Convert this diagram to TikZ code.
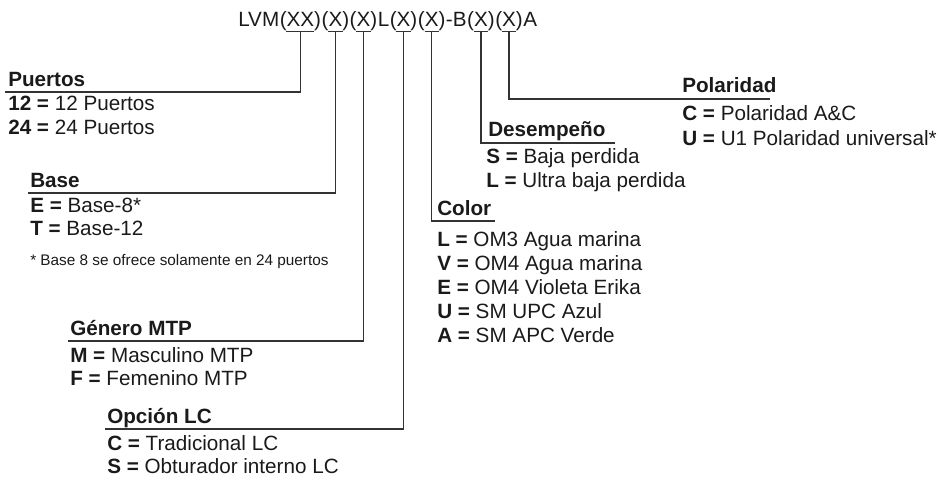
\documentclass[tikz,border=0pt]{standalone}
\usepackage{fontspec}
\setmainfont{Liberation Sans}
\usetikzlibrary{positioning}
\definecolor{ink}{HTML}{1A1A1A}
\definecolor{wire}{HTML}{333333}
\begin{document}
\begin{tikzpicture}[x=0.75pt,y=-0.75pt,
  every node/.style={inner sep=0pt,anchor=base west,text=ink},
  code/.style={font=\fontsize{15.5}{18}\selectfont},
  head/.style={font=\fontsize{15.5}{18}\selectfont\bfseries},
  item/.style={font=\fontsize{15.5}{18}\selectfont},
  note/.style={font=\fontsize{11.5}{14}\selectfont},
  wire/.style={draw=wire,line width=1.1pt}]
\useasboundingbox (0,0) rectangle (939,485);
% part number
\node[code] (t0) at (238,27) {LVM};
\node[code] (c1) at (t0.base east) {(XX)};
\node[code] (c2) at (c1.base east) {(X)};
\node[code] (c3) at (c2.base east) {(X)};
\node[code] (t1) at (c3.base east) {L};
\node[code] (c4) at (t1.base east) {(X)};
\node[code] (c5) at (c4.base east) {(X)};
\node[code] (t2) at (c5.base east) {-B};
\node[code] (c6) at (t2.base east) {(X)};
\node[code] (c7) at (c6.base east) {(X)};
\node[code] (t3) at (c7.base east) {A};
% bars under the fields
\draw[wire] ([xshift=5.2pt]c1.south west) -- ([xshift=-5.2pt]c1.south east);
\draw[wire] ([xshift=5.2pt]c2.south west) -- ([xshift=-5.2pt]c2.south east);
\draw[wire] ([xshift=5.2pt]c3.south west) -- ([xshift=-5.2pt]c3.south east);
\draw[wire] ([xshift=5.2pt]c4.south west) -- ([xshift=-5.2pt]c4.south east);
\draw[wire] ([xshift=5.2pt]c5.south west) -- ([xshift=-5.2pt]c5.south east);
\draw[wire] ([xshift=5.2pt]c6.south west) -- ([xshift=-5.2pt]c6.south east);
\draw[wire] ([xshift=5.2pt]c7.south west) -- ([xshift=-5.2pt]c7.south east);

% puertos
\node[head] (puertos) at (8,87) {Puertos};
\node[item] (p12) at (8,111) {\textbf{12 =} 12 Puertos};
\node[item] (p24) at (8,134) {\textbf{24 =} 24 Puertos};
\coordinate (puertosL) at (5,92);
% base
\node[head] (base) at (30,187) {Base};
\node[item] (b8) at (30,212) {\textbf{E =} Base-8*};
\node[item] (b12) at (30,235) {\textbf{T =} Base-12};
\node[note] (bnote) at (30,265) {* Base 8 se ofrece solamente en 24 puertos};
\coordinate (baseL) at (28,193);
% genero
\node[head] (genero) at (70,335) {Género MTP};
\node[item] (gm) at (70,362) {\textbf{M =} Masculino MTP};
\node[item] (gf) at (70,385) {\textbf{F =} Femenino MTP};
\coordinate (generoL) at (68,341);
% opcion lc
\node[head] (opcion) at (107,423) {Opción LC};
\node[item] (oc) at (107,450) {\textbf{C =} Tradicional LC};
\node[item] (os) at (107,473) {\textbf{S =} Obturador interno LC};
\coordinate (opcionL) at (105,429);
% color
\node[head] (color) at (437,215) {Color};
\node[item] (cl) at (437,246) {\textbf{L =} OM3 Agua marina};
\node[item] (cv) at (437,270) {\textbf{V =} OM4 Agua marina};
\node[item] (ce) at (437,294) {\textbf{E =} OM4 Violeta Erika};
\node[item] (cu) at (437,318) {\textbf{U =} SM UPC Azul};
\node[item] (ca) at (437,342) {\textbf{A =} SM APC Verde};
\coordinate (colorR) at (495,221);
% desempeno
\node[head] (desemp) at (488,137) {Desempeño};
\node[item] (ds) at (486,163) {\textbf{S =} Baja perdida};
\node[item] (dl) at (486,187) {\textbf{L =} Ultra baja perdida};
\coordinate (desempR) at (615,143);
% polaridad
\node[head] (polar) at (682,93) {Polaridad};
\node[item] (pc) at (682,121) {\textbf{C =} Polaridad A\&C};
\node[item] (pu) at (682,145) {\textbf{U =} U1 Polaridad universal*};
\coordinate (polarR) at (770,99);

% lines
\draw[wire] (c1.south) -- (c1.south |- puertosL) -- (puertosL);
\draw[wire] (c2.south) -- (c2.south |- baseL) -- (baseL);
\draw[wire] (c3.south) -- (c3.south |- generoL) -- (generoL);
\draw[wire] (c4.south) -- (c4.south |- opcionL) -- (opcionL);
\draw[wire] (c5.south) -- (c5.south |- colorR) -- (colorR);
\draw[wire] (c6.south) -- (c6.south |- desempR) -- (desempR);
\draw[wire] (c7.south) -- (c7.south |- polarR) -- (polarR);
\end{tikzpicture}
\end{document}
